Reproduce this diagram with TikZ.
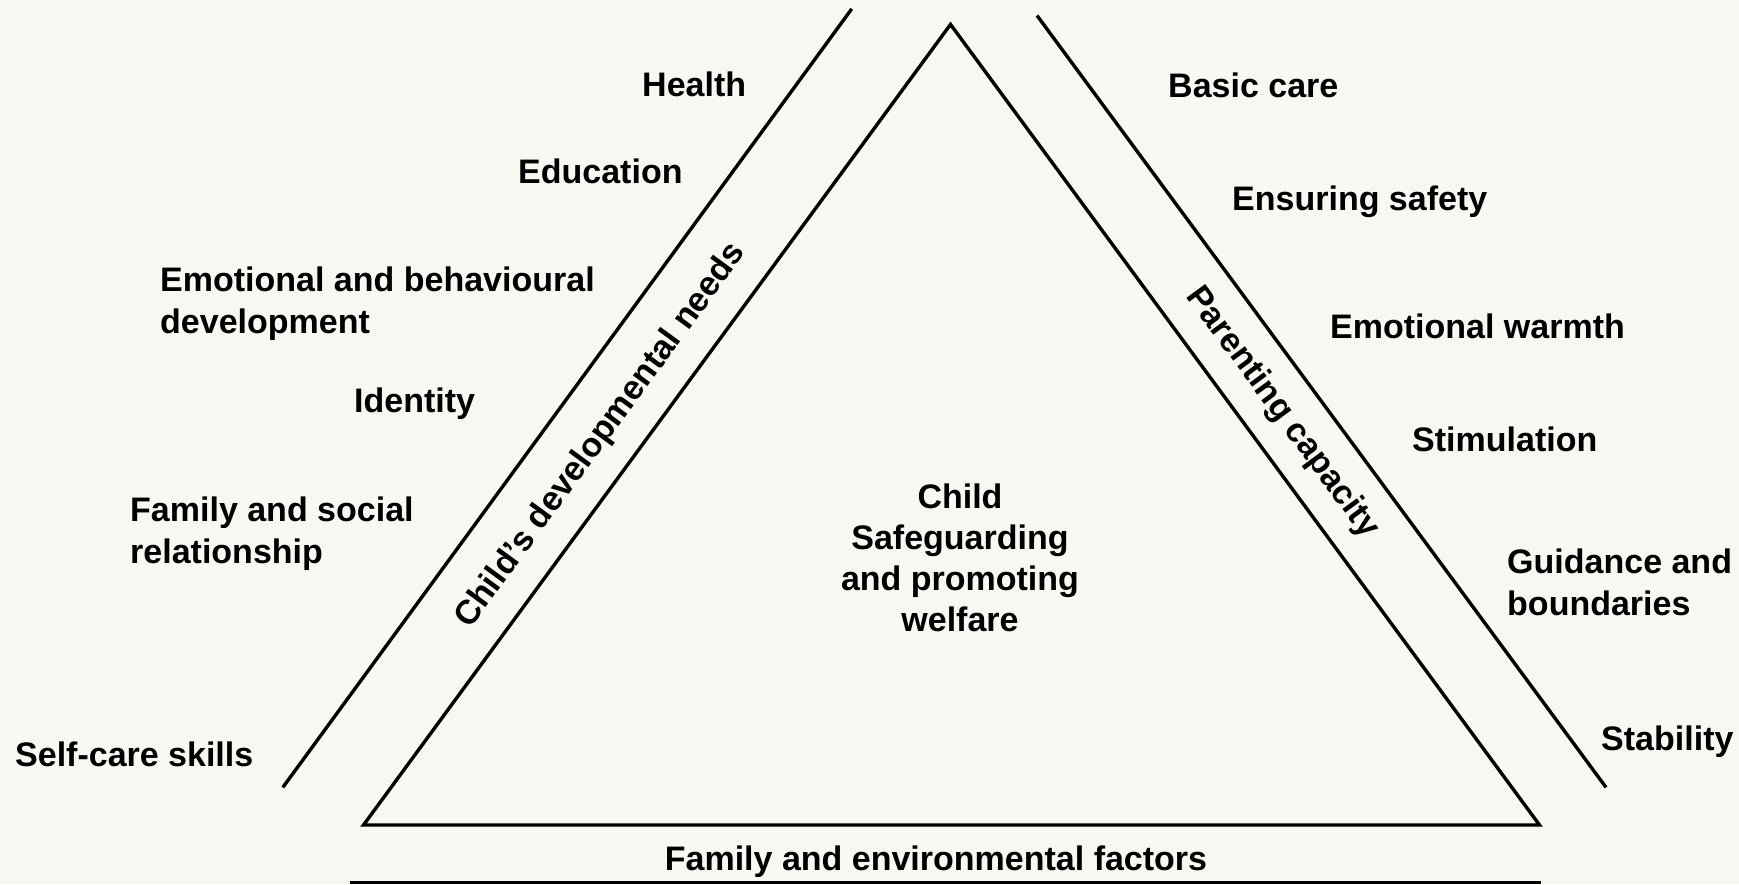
\documentclass[tikz,border=0pt]{standalone}
\usepackage{fontspec}
\setmainfont{Liberation Sans}
\definecolor{bg}{RGB}{249,247,242}
\begin{document}
\begin{tikzpicture}[x=1pt,y=-1pt,
  lab/.style={font=\fontsize{34}{42}\selectfont\bfseries, inner sep=0pt, align=left, anchor=base west},
  ctr/.style={font=\fontsize{34}{41}\selectfont\bfseries, inner sep=0pt, align=center},
  edge/.style={line width=3.4pt, black}]
\fill[bg] (0,0) rectangle (1739,884);
\useasboundingbox (0,0) rectangle (1739,884);
% triangle
\coordinate (A) at (950.5,24.4);
\coordinate (BL) at (363.5,825);
\coordinate (BR) at (1539.5,825);
\draw[edge, line join=miter] (A) -- (BL) -- (BR) -- cycle;
% side lines
\coordinate (L1) at (851.7,8.9);
\coordinate (L2) at (282.8,787.4);
\coordinate (R1) at (1037,15.5);
\coordinate (R2) at (1606,787.4);
\coordinate (B1) at (350,882.5);
\coordinate (B2) at (1541,882.5);
\draw[edge] (L1) -- (L2);
\draw[edge] (R1) -- (R2);
\draw[edge] (B1) -- (B2);
% band labels
\node[ctr, rotate=53.8] (cdn) at (601,436) {Child’s developmental needs};
\node[ctr, rotate=-53.6] (pc) at (1282,413) {Parenting capacity};
\node[ctr, anchor=base] (fef) at (936,870) {Family and environmental factors};
\node[ctr, anchor=north] (child) at (960,484) {Child\\Safeguarding\\and promoting\\welfare};
% left labels
\node[lab] (health) at (642,96.5) {Health};
\node[lab] (edu) at (518,183) {Education};
\node[lab] (emo) at (160,333.5) {Emotional and behavioural\\development};
\node[lab] (ident) at (354,412) {Identity};
\node[lab] (fam) at (130,563) {Family and social\\relationship};
\node[lab] (self) at (15,766.7) {Self-care skills};
% right labels
\node[lab] (basic) at (1168,97) {Basic care};
\node[lab] (safe) at (1232,210.7) {Ensuring safety};
\node[lab] (warm) at (1330,338) {Emotional warmth};
\node[lab] (stim) at (1412,451) {Stimulation};
\node[lab] (guid) at (1507,615) {Guidance and\\boundaries};
\node[lab] (stab) at (1601,750) {Stability};
\end{tikzpicture}
\end{document}
